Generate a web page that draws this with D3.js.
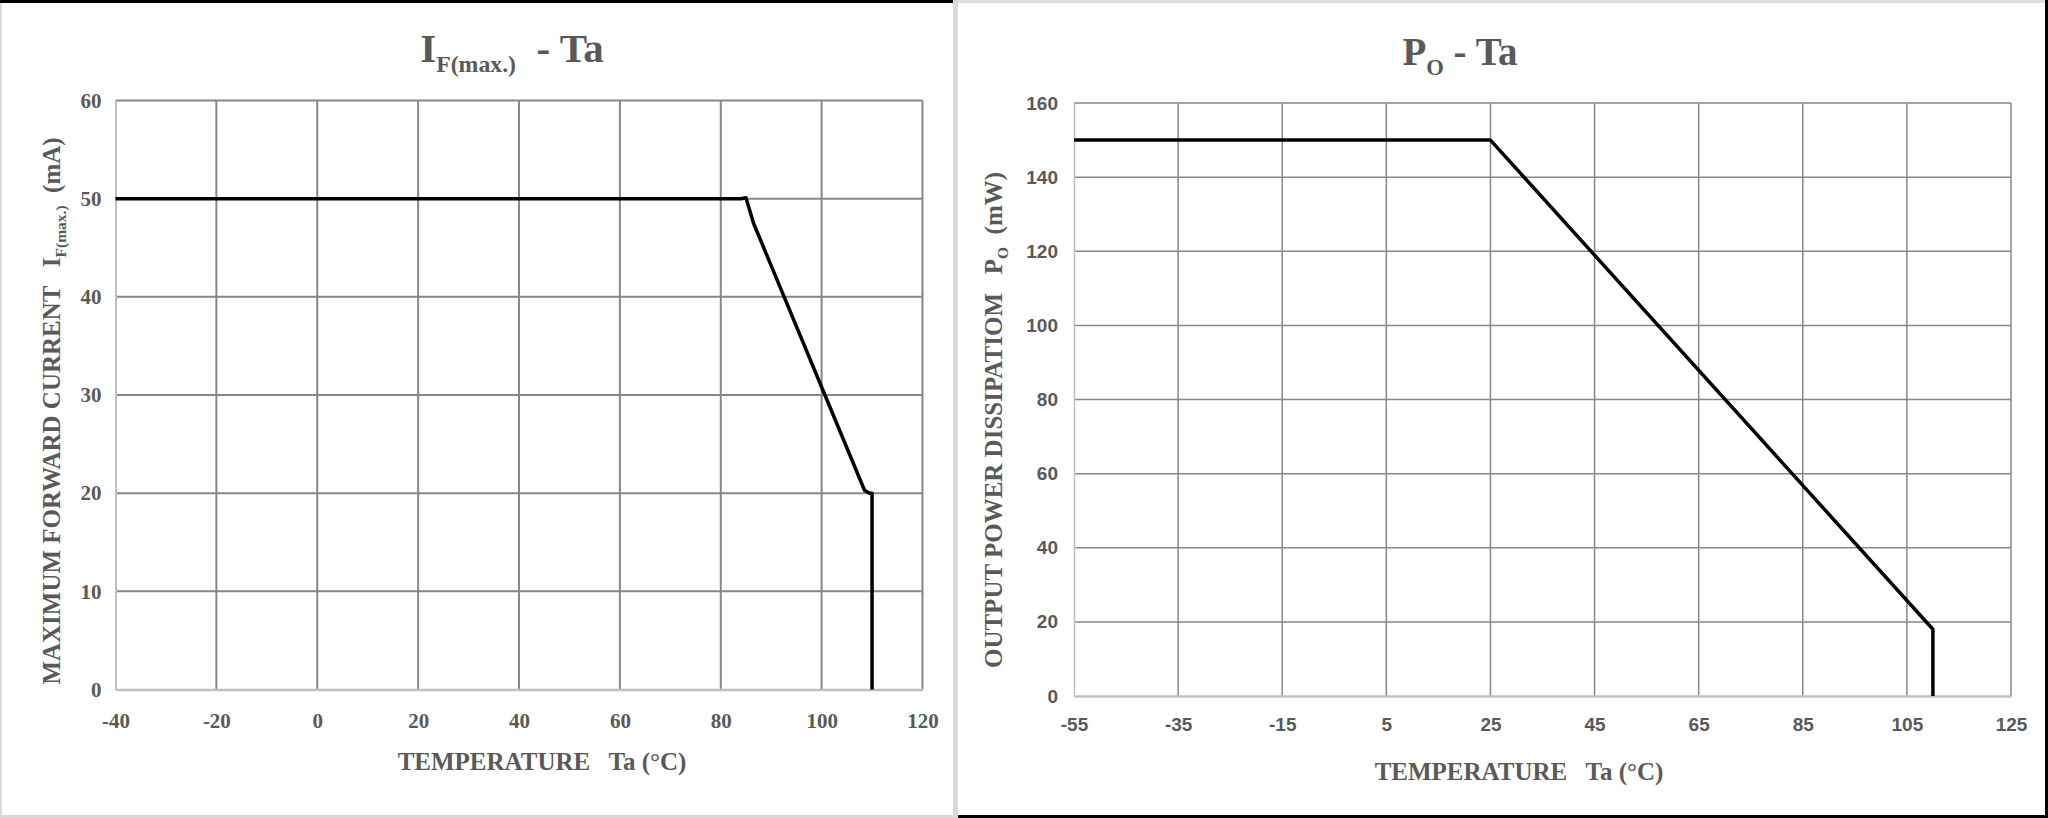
<!DOCTYPE html>
<html>
<head>
<meta charset="utf-8">
<script src="https://cdn.jsdelivr.net/npm/d3@7"></script>
<style>
  body { margin: 0; background: #fff; }
  svg text { fill: #595959; }
</style>
</head>
<body>
<div id="chart"></div>
<script>
// left chart : IF(max.) - Ta
var ifTemps  = [-40, 84, 85, 86.5, 108.5, 109.5, 110, 110];
var ifValues = [50, 50, 50.1, 47.5, 20.3, 20, 20, 0];
var ifXTicks = [-40, -20, 0, 20, 40, 60, 80, 100, 120];
var ifYTicks = [0, 10, 20, 30, 40, 50, 60];

// right chart : PO - Ta
var poTemps  = [-55, 25, 110, 110];
var poValues = [150, 150, 18, 0];
var poXTicks = [-55, -35, -15, 5, 25, 45, 65, 85, 105, 125];
var poYTicks = [0, 20, 40, 60, 80, 100, 120, 140, 160];

var W = 2048, H = 818;
var serif = "'Liberation Serif', 'Times New Roman', serif";
var sans = "'Liberation Sans', Arial, sans-serif";

var svg = d3.select("#chart").append("svg")
  .attr("width", W).attr("height", H);

svg.append("rect").attr("width", W).attr("height", H).attr("fill", "#fff");

// panel frames
svg.append("rect").attr("x", 0).attr("y", 0).attr("width", 2).attr("height", H).attr("fill", "#d9d9d9");
svg.append("rect").attr("x", 0).attr("y", 815).attr("width", 955).attr("height", 3).attr("fill", "#d9d9d9");
svg.append("rect").attr("x", 0).attr("y", 0).attr("width", 955).attr("height", 3).attr("fill", "#000");
svg.append("rect").attr("x", 953).attr("y", 0).attr("width", 5).attr("height", H).attr("fill", "#d9d9d9");
svg.append("rect").attr("x", 958).attr("y", 0).attr("width", W - 958).attr("height", 3).attr("fill", "#dedede");
svg.append("rect").attr("x", 958).attr("y", 815).attr("width", W - 958).attr("height", 3).attr("fill", "#000");
svg.append("rect").attr("x", 2045).attr("y", 0).attr("width", 3).attr("height", H).attr("fill", "#000");

function chart(opt) {
  var x = d3.scaleLinear().domain(opt.xDomain).range([opt.left, opt.right]);
  var y = d3.scaleLinear().domain(opt.yDomain).range([opt.bottom, opt.top]);
  var g = svg.append("g");

  // grid
  g.append("g").selectAll("line").data(opt.xTicks.slice(1)).join("line")
    .attr("x1", d => x(d)).attr("x2", d => x(d))
    .attr("y1", opt.top).attr("y2", opt.bottom)
    .attr("stroke", "#878787").attr("stroke-width", opt.gridW);
  g.append("g").selectAll("line").data(opt.yTicks.slice(1)).join("line")
    .attr("x1", opt.left).attr("x2", opt.right)
    .attr("y1", d => y(d)).attr("y2", d => y(d))
    .attr("stroke", "#878787").attr("stroke-width", opt.gridW);

  // axes (plain hyphen for negatives, like the source)
  var xAxis = g.append("g")
    .attr("transform", `translate(0,${opt.bottom})`)
    .call(d3.axisBottom(x).tickValues(opt.xTicks).tickFormat(d => String(d)).tickSize(0).tickPadding(opt.xPad));
  var yAxis = g.append("g")
    .attr("transform", `translate(${opt.left},0)`)
    .call(d3.axisLeft(y).tickValues(opt.yTicks).tickFormat(d => String(d)).tickSize(0).tickPadding(opt.yPad));
  xAxis.select(".domain").attr("stroke", "#bfbfbf").attr("stroke-width", 2.5);
  yAxis.select(".domain").attr("stroke", "#bfbfbf").attr("stroke-width", opt.gridW);
  [xAxis, yAxis].forEach(a => a.selectAll("text")
    .attr("font-family", opt.tickFont).attr("font-weight", "bold")
    .attr("font-size", opt.tickSize).style("fill", "#595959"));

  // series
  var pts = d3.zip(opt.temps, opt.values);
  g.append("path").datum(pts)
    .attr("fill", "none").attr("stroke", "#000").attr("stroke-width", 3.5)
    .attr("stroke-linejoin", "round")
    .attr("d", d3.line().x(d => x(d[0])).y(d => y(d[1])));

  // title
  var t = g.append("text")
    .attr("x", opt.titleX).attr("y", opt.titleY)
    .attr("text-anchor", "middle")
    .attr("font-family", serif).attr("font-weight", "bold")
    .attr("font-size", opt.titleSize)
    .attr("xml:space", "preserve");
  t.append("tspan").text(opt.title[0]);
  t.append("tspan").attr("dy", opt.titleSize * 0.25).attr("font-size", opt.titleSize * 0.58).text(opt.title[1]);
  t.append("tspan").attr("dy", -opt.titleSize * 0.25).text(opt.title[2]);

  // x axis title
  g.append("text")
    .attr("x", opt.xTitleX).attr("y", opt.xTitleY)
    .attr("text-anchor", "middle")
    .attr("font-family", serif).attr("font-weight", "bold")
    .attr("font-size", opt.xTitleSize)
    .attr("xml:space", "preserve")
    .text(opt.xTitle);

  // y axis title
  var yt = g.append("text")
    .attr("transform", `translate(${opt.yTitleX},${opt.yTitleY}) rotate(-90)`)
    .attr("text-anchor", "middle")
    .attr("font-family", serif).attr("font-weight", "bold")
    .attr("font-size", opt.yTitleSize)
    .attr("xml:space", "preserve");
  yt.append("tspan").text(opt.yTitle[0]);
  yt.append("tspan").attr("dy", opt.yTitleSize * 0.25).attr("font-size", opt.yTitleSize * 0.62).text(opt.yTitle[1]);
  yt.append("tspan").attr("dy", -opt.yTitleSize * 0.25).text(opt.yTitle[2]);
}

chart({
  temps: ifTemps, values: ifValues, xTicks: ifXTicks, yTicks: ifYTicks,
  xDomain: [-40, 120], yDomain: [0, 60],
  left: 115.5, right: 922.5, top: 100.5, bottom: 689.5,
  gridW: 2, tickFont: serif, tickSize: 21, xPad: 24, yPad: 14,
  title: ["I", "F(max.)", "  - Ta"], titleX: 512, titleY: 62, titleSize: 41,
  xTitle: "TEMPERATURE   Ta (\u00B0C)", xTitleX: 542, xTitleY: 770, xTitleSize: 25,
  yTitle: ["MAXIMUM FORWARD CURRENT   I", "F(max.)", "  (mA)"], yTitleX: 60, yTitleY: 411,
  yTitleSize: 25
});

chart({
  temps: poTemps, values: poValues, xTicks: poXTicks, yTicks: poYTicks,
  xDomain: [-55, 125], yDomain: [0, 160],
  left: 1074, right: 2011, top: 103, bottom: 696,
  gridW: 1.5, tickFont: sans, tickSize: 19, xPad: 22, yPad: 16,
  title: ["P", "O", " - Ta"], titleX: 1460, titleY: 65, titleSize: 39,
  xTitle: "TEMPERATURE   Ta (\u00B0C)", xTitleX: 1519, xTitleY: 780, xTitleSize: 25,
  yTitle: ["OUTPUT POWER DISSIPATIOM   P", "O", "  (mW)"], yTitleX: 1002, yTitleY: 420,
  yTitleSize: 25
});
</script>
</body>
</html>
